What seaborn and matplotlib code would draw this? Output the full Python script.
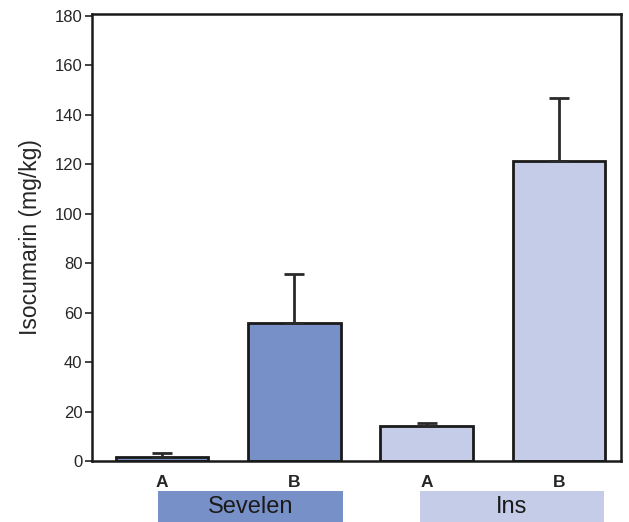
import numpy as np
import pandas as pd
import matplotlib
matplotlib.use("Agg")
import matplotlib.pyplot as plt
import matplotlib.transforms as mtransforms
from matplotlib.patches import Rectangle
import seaborn as sns

# data
groups = ["Sevelen", "Sevelen", "Ins", "Ins"]
treatments = ["A", "B", "A", "B"]
values = [1.5, 56, 14, 121.5]
errors = [1.7, 19.5, 1.5, 25.5]
group_colors = {"Sevelen": "#7890c8", "Ins": "#c4cce8"}

df = pd.DataFrame({"group": groups, "treatment": treatments,
                   "value": values, "err": errors})
df["bar"] = df["group"] + " " + df["treatment"]

sns.set_style("ticks")
plt.rcParams["font.family"] = ["Liberation Sans", "DejaVu Sans"]

fig = plt.figure(figsize=(6.29, 5.22), dpi=100)
ax = fig.add_axes([0.1463, 0.1169, 0.841, 0.8563])

sns.barplot(data=df, x="bar", y="value", hue="bar",
            palette=[group_colors[g] for g in df["group"]], saturation=1,
            width=0.7, edgecolor="#1a1a1a", linewidth=2, errorbar=None,
            legend=False, ax=ax)

# one-sided (upper) error bars
ax.errorbar(np.arange(len(df)), df["value"],
            yerr=[np.zeros(len(df)), df["err"]], fmt="none",
            ecolor="#2a2a2a", elinewidth=2, capsize=7, capthick=2, zorder=1)

ax.set_xlim(-0.53, 3.47)
ax.set_ylim(0, 180.8)
ax.set_yticks(range(0, 181, 20))
ax.set_xticks(range(len(df)))
ax.set_xticklabels(df["treatment"], fontweight="bold", fontsize=12.5)
ax.tick_params(axis="x", length=0, pad=10)
ax.tick_params(axis="y", length=5, width=1.2, labelsize=12, pad=2,
               color="#222222")
ax.set_xlabel("")
ax.set_ylabel("Isocumarin (mg/kg)", fontsize=16.5, labelpad=9)

for s in ax.spines.values():
    s.set_visible(True)
    s.set_linewidth(1.8)
    s.set_color("#1a1a1a")

# group label boxes below the axis
trans = mtransforms.blended_transform_factory(ax.transData, fig.transFigure)
boxes = [("Sevelen", -0.03, 1.37), ("Ins", 1.95, 3.34)]
for name, x0, x1 in boxes:
    ax.add_patch(Rectangle((x0, 0.0), x1 - x0, 0.06, transform=trans,
                           facecolor=group_colors[name], edgecolor="none",
                           clip_on=False))
    ax.text((x0 + x1) / 2, 0.028, name, transform=trans, ha="center",
            va="center", fontsize=17, color="#1a1a1a")

fig.savefig("out.png", dpi=100)
